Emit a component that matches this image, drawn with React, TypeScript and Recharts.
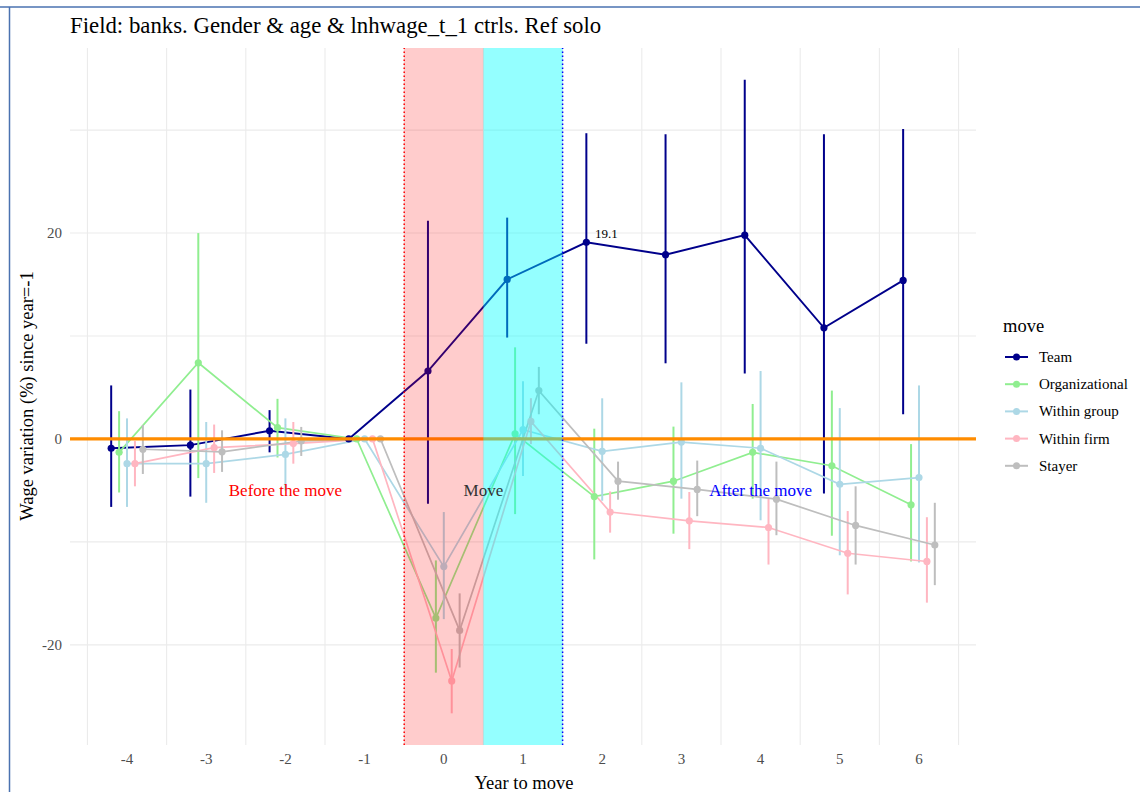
import React from 'react';
import {
  ComposedChart,
  Line,
  XAxis,
  YAxis,
  CartesianGrid,
  ReferenceLine,
  ReferenceArea,
  ReferenceDot,
  ErrorBar,
  LabelList,
} from 'recharts';

// Event-study estimates of wage variation (%) relative to year -1, by move type.
const years = [-4, -3, -2, -1, 0, 1, 2, 3, 4, 5, 6];

const seriesNames = ['Team', 'Organizational', 'Within group', 'Within firm', 'Stayer'];
const seriesColors = ['#00008B', '#90EE90', '#ADD8E6', '#FFB6C1', '#BEBEBE'];
const dodge = [-0.2, -0.1, 0, 0.1, 0.2];

const teamEst = [-0.9, -0.6, 0.8, 0, 6.6, 15.5, 19.1, 17.9, 19.8, 10.8, 15.4];
const teamLo = [-6.6, -5.6, -1.3, null, -6.3, 9.85, 9.25, 7.35, 6.35, -5.3, 2.4];
const teamHi = [5.2, 4.8, 2.8, null, 21.2, 21.5, 29.7, 29.6, 34.9, 29.6, 30.1];

const orgEst = [-1.3, 7.4, 1.1, 0, -17.4, 0.5, -5.6, -4.1, -1.3, -2.6, -6.4];
const orgLo = [-5.2, -3.8, -1.8, null, -22.7, -7.3, -11.7, -9.2, -5.8, -9.4, -11.9];
const orgHi = [2.7, 20.0, 3.9, null, -11.8, 8.9, 1.0, 1.2, 3.4, 4.7, -0.5];

const groupEst = [-2.4, -2.4, -1.5, 0, -12.4, 0.9, -1.2, -0.3, -0.9, -4.4, -3.75];
const groupLo = [-6.6, -6.2, -5.0, null, -17.5, -3.6, -6.0, -5.8, -7.9, -11.3, -12.0];
const groupHi = [2.0, 1.65, 2.0, null, -7.1, 5.6, 3.95, 5.5, 6.6, 3.0, 5.2];

const firmEst = [-2.4, -0.85, -0.45, 0, -23.5, 1.7, -7.1, -7.95, -8.6, -11.1, -11.9];
const firmLo = [-4.6, -3.3, -2.4, null, -26.65, -0.5, -9.1, -10.7, -12.2, -15.1, -15.9];
const firmHi = [-0.2, 1.4, 1.65, null, -20.4, 3.96, -5.1, -5.15, -5.8, -7.0, -7.6];

const stayerEst = [-1.0, -1.25, -0.2, 0, -18.6, 4.7, -4.1, -4.9, -5.85, -8.4, -10.3];
const stayerLo = [-3.4, -3.2, -1.65, null, -22.2, 2.4, -5.9, -7.5, -9.35, -12.2, -14.2];
const stayerHi = [1.36, 0.84, 1.17, null, -15.0, 7.0, -2.2, -2.1, -2.2, -4.6, -6.2];

const estimates = [teamEst, orgEst, groupEst, firmEst, stayerEst];
const lowers = [teamLo, orgLo, groupLo, firmLo, stayerLo];
const uppers = [teamHi, orgHi, groupHi, firmHi, stayerHi];

const yTicks = [-20, 0, 20];
const yGrid = [-20, -10, 0, 10, 20, 30];
const xGrid = [-4.5, -3.5, -2.5, -1.5, -0.5, 0.5, 1.5, 2.5, 3.5, 4.5, 5.5, 6.5];

const labelledSeries = 0;
const labelledYear = 2;

const periods = [
  { text: 'Before the move', x: -2, y: -5, color: '#FF0000' },
  { text: 'Move', x: 0.5, y: -5, color: '#333333' },
  { text: 'After the move', x: 4, y: -5, color: '#0000FF' },
];

const seriesData = seriesNames.map((name, i) =>
  years.map((yr, j) => {
    const est = estimates[i][j];
    const lo = lowers[i][j];
    const hi = uppers[i][j];
    return {
      x: Math.round((yr + dodge[i]) * 100) / 100,
      year: yr,
      y: est,
      err: lo == null || hi == null ? [0, 0] : [est - lo, hi - est],
    };
  })
);

// ggplot-style 5% expansion of the continuous scales
const expand = (lo: number, hi: number): [number, number] => {
  const pad = (hi - lo) * 0.05;
  return [lo - pad, hi + pad];
};
const allX = seriesData.flat().map((d) => d.x);
const allLo = lowers.flat().filter((v) => v != null) as number[];
const allHi = uppers.flat().filter((v) => v != null) as number[];
const xDomain = expand(Math.min(...allX), Math.max(...allX));
const yDomain = expand(Math.min(...allLo), Math.max(...allHi));

const FONT = '"Liberation Serif", "Times New Roman", serif';

const PointLabel = (props: any) => {
  const { x, y, index, value } = props;
  if (years[index] !== labelledYear) return null;
  return (
    <text x={x + 20} y={y - 9} textAnchor="middle" dominantBaseline="central" fontSize={13} fill="#000" fontFamily={FONT}>
      {Number(value).toFixed(1)}
    </text>
  );
};

const Frame = () => (
  <svg width={1140} height={792} style={{ position: 'absolute', left: 0, top: 0, pointerEvents: 'none' }}>
    <line x1={0} y1={7} x2={1140} y2={7} stroke="#4A72B0" strokeWidth={1.5} />
    <line x1={9.5} y1={7} x2={9.5} y2={792} stroke="#4A72B0" strokeWidth={1.5} />
    <text x={70} y={33} fontSize={22.8} fontFamily={FONT} fill="#000">
      Field: banks. Gender &amp; age &amp; lnhwage_t_1 ctrls. Ref solo
    </text>
    <text
      x={0}
      y={0}
      transform="translate(33,396) rotate(-90)"
      textAnchor="middle"
      fontSize={18.5}
      fontFamily={FONT}
      fill="#000"
    >
      Wage variation (%) since year=-1
    </text>
    <text x={524} y={789} textAnchor="middle" fontSize={18.5} fontFamily={FONT} fill="#000">
      Year to move
    </text>
    <text x={1003} y={332} fontSize={18.5} fontFamily={FONT} fill="#000">
      move
    </text>
    {seriesNames.map((name, i) => {
      const cy = 357 + i * 27.2;
      return (
        <g key={name}>
          <line x1={1005} y1={cy} x2={1028} y2={cy} stroke={seriesColors[i]} strokeWidth={2} />
          <circle cx={1016.5} cy={cy} r={3.5} fill={seriesColors[i]} />
          <text x={1039} y={cy} dominantBaseline="central" fontSize={15} fontFamily={FONT} fill="#000">
            {name}
          </text>
        </g>
      );
    })}
  </svg>
);

export default function App() {
  return (
    <div style={{ position: 'absolute', left: 0, top: 0, width: 1140, height: 792, background: '#fff' }}>
      <ComposedChart
        width={1140}
        height={792}
        margin={{ top: 48, right: 164, bottom: 0, left: 10 }}
        style={{ fontFamily: FONT }}
      >
        <CartesianGrid stroke="#EBEBEB" strokeWidth={1.1} horizontalValues={yGrid} verticalValues={xGrid} />
        <XAxis
          type="number"
          dataKey="x"
          domain={xDomain}
          ticks={years}
          interval={0}
          allowDataOverflow
          tickLine={false}
          axisLine={false}
          height={47}
          tick={{ fill: '#4D4D4D', fontSize: 15, fontFamily: FONT }}
        />
        <YAxis
          type="number"
          domain={yDomain}
          ticks={yTicks}
          allowDataOverflow
          tickLine={false}
          axisLine={false}
          width={60}
          tick={{ fill: '#4D4D4D', fontSize: 15, fontFamily: FONT }}
        />
        {seriesNames.map((name, i) => (
          <Line
            key={name}
            name={name}
            data={seriesData[i]}
            dataKey="y"
            type="linear"
            stroke={seriesColors[i]}
            strokeWidth={i === 0 ? 1.9 : 1.7}
            dot={{ r: 3.6, fill: seriesColors[i], stroke: seriesColors[i], strokeWidth: 0 }}
            activeDot={false}
            isAnimationActive={false}
          >
            <ErrorBar dataKey="err" width={0} stroke={seriesColors[i]} strokeWidth={2} direction="y" />
            {i === labelledSeries ? <LabelList dataKey="y" content={PointLabel} /> : null}
          </Line>
        ))}
        <ReferenceLine y={0} stroke="#FF8C00" strokeWidth={3.2} zIndex={650} />
        {periods.map((p) => (
          <ReferenceDot
            key={p.text}
            x={p.x}
            y={p.y}
            r={0}
            fill="none"
            stroke="none"
            label={{ value: p.text, position: 'center', fill: p.color, fontSize: 17, fontFamily: FONT }}
          />
        ))}
        <ReferenceArea x1={-0.5} x2={0.5} fill="#FF0000" fillOpacity={0.2} stroke="none" zIndex={700} />
        <ReferenceArea x1={0.5} x2={1.5} fill="#00FFFF" fillOpacity={0.42} stroke="none" zIndex={700} />
        <ReferenceLine x={-0.5} stroke="#FF0000" strokeWidth={1.5} strokeDasharray="1.5 2.5" zIndex={710} />
        <ReferenceLine x={1.5} stroke="#0000FF" strokeWidth={1.5} strokeDasharray="1.5 2.5" zIndex={710} />
      </ComposedChart>
      <Frame />
    </div>
  );
}
